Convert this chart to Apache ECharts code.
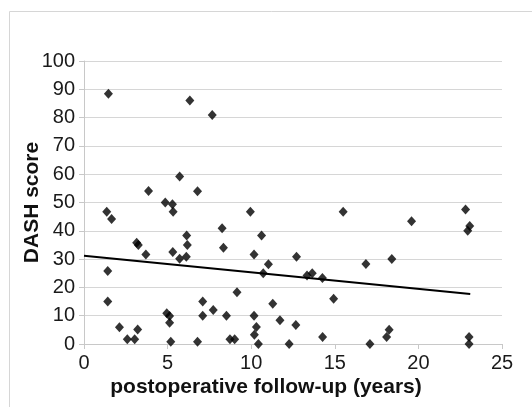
<!DOCTYPE html>
<html>
<head>
<meta charset="utf-8">
<script src="https://cdn.jsdelivr.net/npm/echarts@6/dist/echarts.min.js"></script>
<style>
  html, body { margin: 0; padding: 0; background: #fff; }
  #chart { width: 532px; height: 407px; }
</style>
</head>
<body>
<div id="chart"></div>
<script>
// follow-up years / DASH score
var followUp = [
  1.46, 6.33, 7.67, 5.72, 3.86, 6.79, 4.86, 5.29, 5.33, 1.36,
  1.65, 9.95, 15.5, 22.82, 19.59, 23.07, 22.95, 8.26, 6.14, 10.62,
  3.15, 3.25, 6.18, 8.34, 3.70, 5.31, 6.12, 5.72, 10.17, 12.71,
  18.41, 16.86, 11.03, 1.42, 10.72, 13.34, 13.65, 14.26, 14.93, 1.42,
  7.10, 7.73, 9.15, 11.29, 4.95, 5.12, 5.12, 7.10, 8.52, 10.17,
  11.72, 12.67, 10.31, 10.19, 2.12, 3.21, 2.59, 3.03, 5.19, 6.79,
  8.73, 9.01, 10.43, 12.27, 14.27, 17.1, 18.1, 18.25, 23.03, 23.03
];
var dashScore = [
  88.4, 86.0, 80.9, 59.2, 54.1, 54.0, 50.0, 49.4, 46.7, 46.7,
  44.2, 46.7, 46.7, 47.5, 43.4, 41.7, 40.0, 40.9, 38.3, 38.3,
  35.8, 35.0, 35.0, 34.0, 31.6, 32.5, 30.8, 30.1, 31.6, 30.8,
  30.0, 28.3, 28.2, 25.8, 25.0, 24.2, 25.0, 23.3, 16.0, 15.0,
  15.0, 12.0, 18.3, 14.2, 10.9, 9.9, 7.5, 10.0, 10.0, 10.0,
  8.4, 6.7, 6.0, 3.3, 5.9, 5.1, 1.7, 1.7, 0.8, 0.8,
  1.7, 1.7, 0.0, 0.0, 2.5, 0.0, 2.5, 5.0, 2.5, 0.0
];
// linear trend line, start and end
var trendX = [0, 23.1];
var trendY = [31.2, 17.7];

var xTicks = [0, 5, 10, 15, 20, 25];
var yTicks = [0, 10, 20, 30, 40, 50, 60, 70, 80, 90, 100];

var points = followUp.map(function (x, i) { return [x, dashScore[i]]; });
var trend = trendX.map(function (x, i) { return [x, trendY[i]]; });

var font = 'Liberation Sans';
var chart = echarts.init(document.getElementById('chart'));
chart.setOption({
  animation: false,
  backgroundColor: '#fff',
  graphic: [{
    type: 'rect',
    shape: { x: 9.5, y: 11.5, width: 540, height: 420 },
    style: { fill: 'none', stroke: '#d6d6d6', lineWidth: 1 },
    silent: true
  }],
  grid: { left: 84, right: 30, top: 61, bottom: 63 },
  xAxis: {
    type: 'value',
    min: xTicks[0],
    max: xTicks[xTicks.length - 1],
    interval: 5,
    name: 'postoperative follow-up (years)',
    nameLocation: 'middle',
    nameGap: 33,
    nameMoveOverlap: false,
    nameTextStyle: {
      fontFamily: font, fontSize: 21, fontWeight: 'bold', color: '#111',
      padding: [0, 54, 0, 0]
    },
    axisLine: { show: true, onZero: false, lineStyle: { color: '#c8c8c8', width: 1 } },
    axisTick: { show: true, length: 5, lineStyle: { color: '#c8c8c8' } },
    axisLabel: { fontFamily: font, fontSize: 20, color: '#1a1a1a', margin: 9 },
    splitLine: { show: false }
  },
  yAxis: {
    type: 'value',
    min: yTicks[0],
    max: yTicks[yTicks.length - 1],
    interval: 10,
    name: 'DASH score',
    nameLocation: 'middle',
    nameGap: 41,
    nameMoveOverlap: false,
    nameTextStyle: { fontFamily: font, fontSize: 21, fontWeight: 'bold', color: '#111' },
    axisLine: { show: true, lineStyle: { color: '#c8c8c8', width: 1 } },
    axisTick: { show: true, length: 5, lineStyle: { color: '#c8c8c8' } },
    axisLabel: { fontFamily: font, fontSize: 20, color: '#1a1a1a', margin: 9 },
    splitLine: { show: true, lineStyle: { color: '#d6d6d6', width: 1 } }
  },
  series: [{
    type: 'scatter',
    data: points,
    symbol: 'diamond',
    symbolSize: [9, 10],
    itemStyle: { color: '#000' },
    z: 3
  }, {
    type: 'line',
    data: trend,
    showSymbol: false,
    symbol: 'none',
    lineStyle: { color: '#000', width: 2 },
    z: 2
  }]
});
</script>
</body>
</html>
